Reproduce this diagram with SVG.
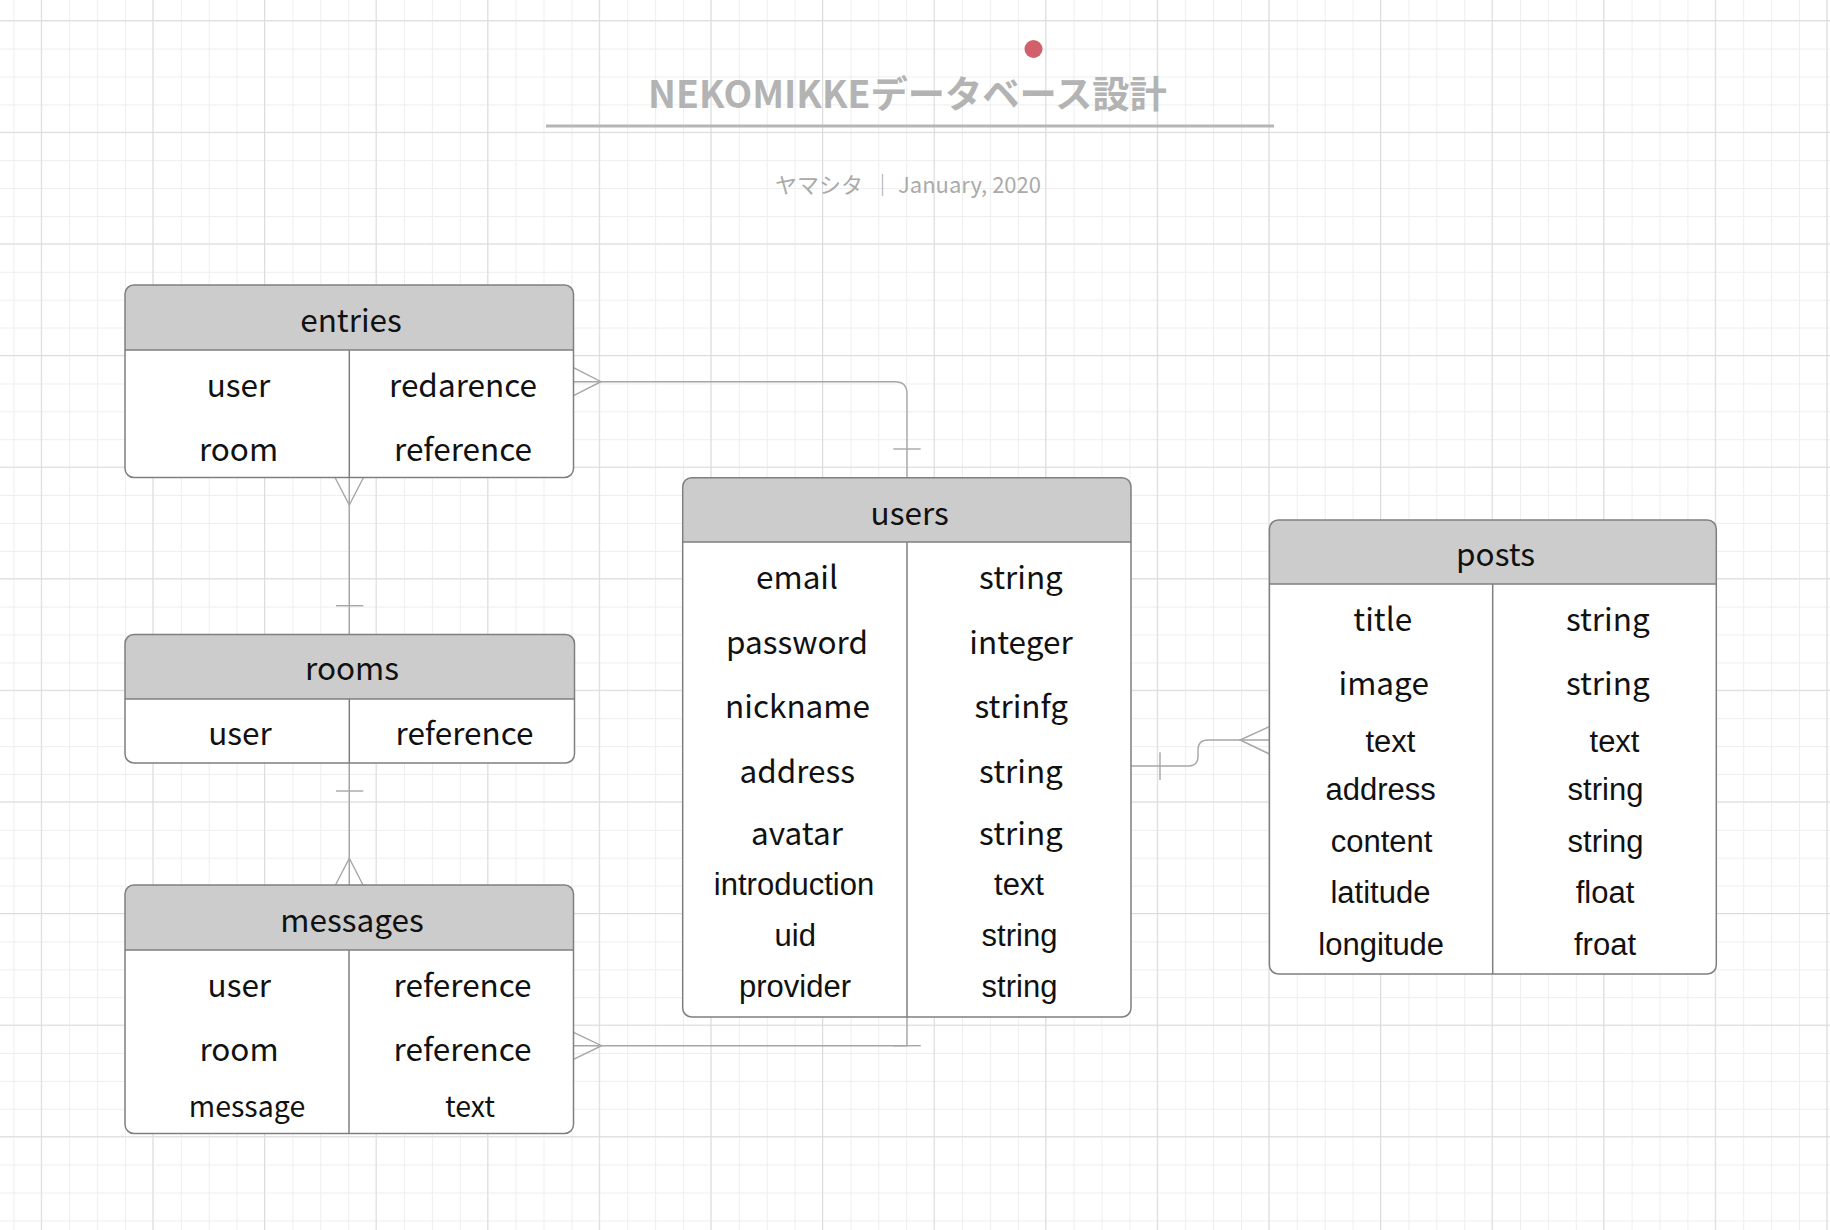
<svg xmlns="http://www.w3.org/2000/svg" width="1830" height="1230" viewBox="0 0 1830 1230">
<style>
.hdr{fill:#cccccc}
.box{fill:none;stroke:#7f7f7f;stroke-width:1.5}
.sep{stroke:#7f7f7f;stroke-width:1.5;fill:none}
.body{fill:#ffffff}
.t{font-family:"Noto Sans CJK JP","Noto Sans",sans-serif;font-size:31.5px;fill:#111111;text-anchor:middle}
.a{font-family:"Liberation Sans",Arial,sans-serif;font-size:31px;fill:#111111;text-anchor:middle}
.s{font-family:"Noto Sans CJK JP","Noto Sans",sans-serif;font-size:28.5px;fill:#111111;text-anchor:middle}
.c{fill:none;stroke:#a6a6a6;stroke-width:1.4}
</style>
<defs>
<pattern id="minor" patternUnits="userSpaceOnUse" x="13.4" y="20.7" width="27.9" height="27.9">
<path d="M0 0.5 H27.9 M0.5 0 V27.9" stroke="#eeeeee" stroke-width="1" fill="none"/>
</pattern>
<pattern id="major" patternUnits="userSpaceOnUse" x="40.8" y="20.2" width="111.6" height="111.6">
<path d="M0 0.5 H111.6 M0.5 0 V111.6" stroke="#dcdcdc" stroke-width="1" fill="none"/>
</pattern>
</defs>
<rect width="1830" height="1230" fill="#ffffff"/>
<rect width="1830" height="1230" fill="url(#minor)"/>
<rect width="1830" height="1230" fill="url(#major)"/>

<g id="title">
<circle cx="1033.5" cy="49" r="9" fill="#d1606a"/>
<text x="907.5" y="108.3" font-family="'Noto Sans CJK JP','Noto Sans',sans-serif" font-size="37.3" font-weight="bold" fill="#b3b3b3" text-anchor="middle">NEKOMIKKEデータベース設計</text>
<line x1="546" y1="126" x2="1274" y2="126" stroke="#b5b5b5" stroke-width="3"/>
<text y="193.3" font-family="'Noto Sans CJK JP','Noto Sans',sans-serif" font-size="22" fill="#aaaaaa"><tspan x="775">ヤマシタ</tspan><tspan x="871.5">｜</tspan><tspan x="898">January, 2020</tspan></text>
</g>

<g id="connectors">
<path class="c" d="M573.5,381.7 H895 Q907,381.7 907,393.7 V477.7"/>
<path class="c" d="M573.5,367.7 L601,381.7 L573.5,395.7"/>
<path class="c" d="M893.3,449 H920.7"/>
<path class="c" d="M349.3,477.5 V634.5"/>
<path class="c" d="M335,477.5 L349.3,505 L363.5,477.5"/>
<path class="c" d="M336,605.7 H363.3"/>
<path class="c" d="M349.3,763 V885"/>
<path class="c" d="M335.5,885 L349.3,858.3 L363,885"/>
<path class="c" d="M336,791 H363.3"/>
<path class="c" d="M573.5,1045.7 H907 V1017"/>
<path class="c" d="M573.5,1032.3 L601.6,1045.7 L573.5,1059.3"/>
<path class="c" d="M893,1045.7 H920.7"/>
<path class="c" d="M1131,766 H1188 Q1198,766 1198,756 V750 Q1198,740 1208,740 H1269.4"/>
<path class="c" d="M1269.4,726.7 L1240,740 L1269.4,754"/>
<path class="c" d="M1160,752.3 V780"/>
</g>

<g id="entries">
<rect class="body" x="125" y="285" width="448.5" height="192.5" rx="9"/>
<path class="hdr" d="M125,350 V294 Q125,285 134,285 H564.5 Q573.5,285 573.5,294 V350 Z"/>
<line class="sep" x1="125" y1="350" x2="573.5" y2="350"/>
<line class="sep" x1="349.3" y1="350" x2="349.3" y2="477.5"/>
<rect class="box" x="125" y="285" width="448.5" height="192.5" rx="9"/>
<text class="t" x="351" y="331.7">entries</text>
<text class="t" x="238.5" y="396.7">user</text>
<text class="t" x="463" y="396.7">redarence</text>
<text class="t" x="238.5" y="460.7">room</text>
<text class="t" x="463" y="460.7">reference</text>
</g>

<g id="rooms">
<rect class="body" x="125" y="634.5" width="449.5" height="128.5" rx="9"/>
<path class="hdr" d="M125,699 V643.5 Q125,634.5 134,634.5 H565.5 Q574.5,634.5 574.5,643.5 V699 Z"/>
<line class="sep" x1="125" y1="699" x2="574.5" y2="699"/>
<line class="sep" x1="349.3" y1="699" x2="349.3" y2="763"/>
<rect class="box" x="125" y="634.5" width="449.5" height="128.5" rx="9"/>
<text class="t" x="352" y="680">rooms</text>
<text class="t" x="240" y="745">user</text>
<text class="t" x="464.5" y="745">reference</text>
</g>

<g id="messages">
<rect class="body" x="125" y="885" width="448.5" height="248.5" rx="9"/>
<path class="hdr" d="M125,950 V894 Q125,885 134,885 H564.5 Q573.5,885 573.5,894 V950 Z"/>
<line class="sep" x1="125" y1="950" x2="573.5" y2="950"/>
<line class="sep" x1="349" y1="950" x2="349" y2="1133.5"/>
<rect class="box" x="125" y="885" width="448.5" height="248.5" rx="9"/>
<text class="t" x="352" y="931.7">messages</text>
<text class="t" x="239.3" y="996.7">user</text>
<text class="t" x="462.6" y="996.7">reference</text>
<text class="t" x="239" y="1060.7">room</text>
<text class="t" x="462.6" y="1060.7">reference</text>
<text class="s" x="247" y="1116.7">message</text>
<text class="s" x="470" y="1116.7">text</text>
</g>

<g id="users">
<rect class="body" x="682.7" y="477.7" width="448.3" height="539.3" rx="9"/>
<path class="hdr" d="M682.7,542 V486.7 Q682.7,477.7 691.7,477.7 H1122 Q1131,477.7 1131,486.7 V542 Z"/>
<line class="sep" x1="682.7" y1="542" x2="1131" y2="542"/>
<line class="sep" x1="907" y1="542" x2="907" y2="1017"/>
<rect class="box" x="682.7" y="477.7" width="448.3" height="539.3" rx="9"/>
<text class="t" x="909.7" y="525">users</text>
<text class="t" x="797" y="589.3">email</text>
<text class="t" x="1021" y="589.3">string</text>
<text class="t" x="797" y="653.8">password</text>
<text class="t" x="1021" y="653.8">integer</text>
<text class="t" x="797.5" y="718.3">nickname</text>
<text class="t" x="1021.3" y="718.3">strinfg</text>
<text class="t" x="797.2" y="782.7">address</text>
<text class="t" x="1021" y="782.7">string</text>
<text class="t" x="797" y="845">avatar</text>
<text class="t" x="1021" y="845">string</text>
<text class="a" x="794" y="895">introduction</text>
<text class="a" x="1019" y="895">text</text>
<text class="a" x="795.2" y="946">uid</text>
<text class="a" x="1019.5" y="946">string</text>
<text class="a" x="795" y="997.3">provider</text>
<text class="a" x="1019.5" y="997.3">string</text>
</g>

<g id="posts">
<rect class="body" x="1269.4" y="520" width="446.9" height="454" rx="9"/>
<path class="hdr" d="M1269.4,584 V529 Q1269.4,520 1278.4,520 H1707.3 Q1716.3,520 1716.3,529 V584 Z"/>
<line class="sep" x1="1269.4" y1="584" x2="1716.3" y2="584"/>
<line class="sep" x1="1492.7" y1="584" x2="1492.7" y2="974"/>
<rect class="box" x="1269.4" y="520" width="446.9" height="454" rx="9"/>
<text class="t" x="1495.5" y="565.7">posts</text>
<text class="t" x="1382.7" y="630.7">title</text>
<text class="t" x="1607.8" y="630.7">string</text>
<text class="t" x="1383.7" y="695">image</text>
<text class="t" x="1607.8" y="695">string</text>
<text class="a" x="1390.4" y="751.7">text</text>
<text class="a" x="1614.5" y="751.7">text</text>
<text class="a" x="1380.6" y="800">address</text>
<text class="a" x="1605.5" y="800">string</text>
<text class="a" x="1381.6" y="851.7">content</text>
<text class="a" x="1605.5" y="851.7">string</text>
<text class="a" x="1380.4" y="902.7">latitude</text>
<text class="a" x="1605" y="902.7">float</text>
<text class="a" x="1381.2" y="955">longitude</text>
<text class="a" x="1605" y="955">froat</text>
</g>
</svg>
